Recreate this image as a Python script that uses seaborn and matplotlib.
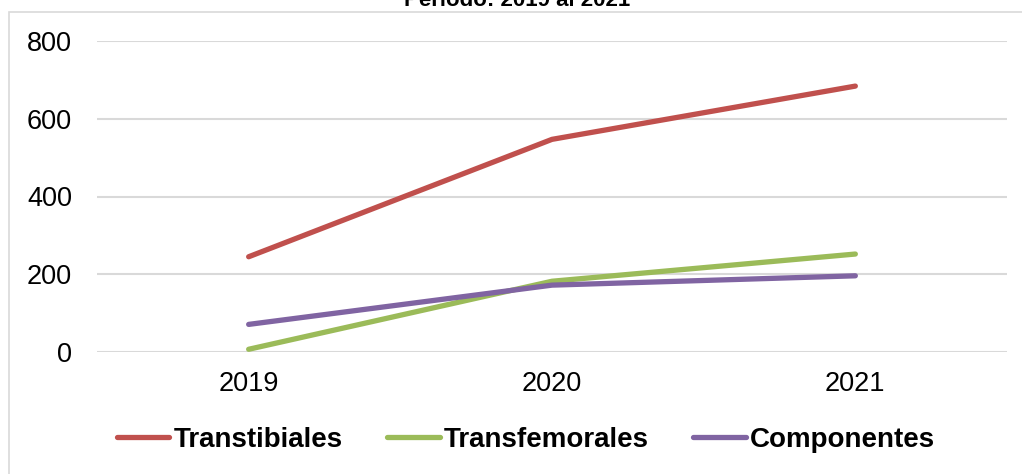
import matplotlib
matplotlib.use('Agg')
import matplotlib.pyplot as plt
import seaborn as sns
import pandas as pd
from matplotlib.patches import Rectangle

# Data
years = ['2019', '2020', '2021']
transtibiales = [245, 547, 684]
transfemorales = [7, 182, 252]
componentes = [71, 172, 196]

series_names = ['Transtibiales', 'Transfemorales', 'Componentes']
colors = ['#C0504D', '#9BBB59', '#8064A2']

df = pd.DataFrame({
    'Año': years * 3,
    'Valor': transtibiales + transfemorales + componentes,
    'Serie': [s for s in series_names for _ in years],
})

sns.set_style('white')
plt.rcParams['font.family'] = ['Liberation Sans', 'DejaVu Sans']
plt.rcParams['text.color'] = 'black'

fig = plt.figure(figsize=(10.22, 4.74), dpi=100)
ax = fig.add_axes([97 / 1022, 1 - 352 / 474, (1007 - 97) / 1022, (352 - 41) / 474])

sns.lineplot(data=df, x='Año', y='Valor', hue='Serie', palette=colors,
             hue_order=series_names, sort=False, linewidth=3.8, ax=ax)
for line in ax.lines:
    line.set_solid_capstyle('round')

ax.set_xlim(-0.5, 2.5)
ax.set_ylim(0, 800)
ax.set_yticks([0, 200, 400, 600, 800])
ax.set_xlabel('')
ax.set_ylabel('')
ax.yaxis.grid(True, color='#d9d9d9', linewidth=1.5)
ax.set_axisbelow(True)
for sp in ax.spines.values():
    sp.set_visible(False)
ax.tick_params(axis='both', length=0, labelsize=19.5, colors='black')
ax.tick_params(axis='y', pad=18)
ax.tick_params(axis='x', pad=14)

handles, labels = ax.get_legend_handles_labels()
ax.legend(handles, labels, loc='center', ncol=3, frameon=False,
          bbox_to_anchor=(526 / 1022, 1 - 440 / 474), bbox_transform=fig.transFigure,
          handlelength=1.9, handletextpad=0.15, columnspacing=1.6, labelcolor='black',
          prop={'weight': 'bold', 'size': 20})

# Chart frame (clipped at the right and bottom edges)
fig.patches.append(Rectangle((9 / 1022, -0.1), 1.2, 1 - 12 / 474 + 0.1,
                             transform=fig.transFigure, fill=False,
                             edgecolor='#d9d9d9', linewidth=1.2))

# Title, mostly cut off at the top as in the source
fig.text(517 / 1022, 1 - 6 / 474, 'Periodo: 2019 al 2021', ha='center', va='baseline',
         fontsize=16, fontweight='bold', color='black')

plt.savefig('out.png', dpi=100)
plt.close()
